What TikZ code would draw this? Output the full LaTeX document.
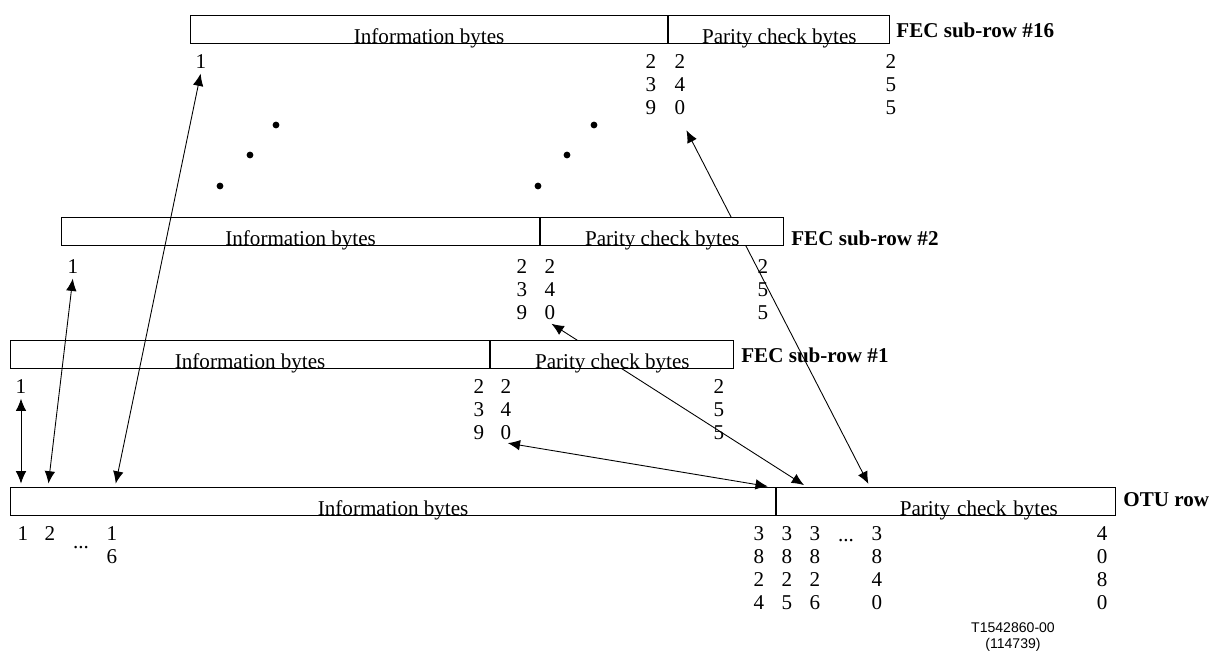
\documentclass[tikz,border=0pt]{standalone}
\usepackage{fontspec}
\setmainfont{Liberation Serif}
\setsansfont{Liberation Sans}
\usetikzlibrary{arrows.meta,backgrounds}

\begin{document}
\begin{tikzpicture}[x=0.02cm, y=-0.02cm, font=\fontsize{12}{13}\selectfont,
      >={Latex[length=7pt,width=6pt]},
      cell/.style={draw, fill=white, line width=0.7pt, anchor=north west, minimum height=0.56cm,
        inner xsep=0pt, inner ysep=0.01cm, text height=0.54cm, text depth=0pt},
      num/.style={align=center, anchor=north, inner sep=1.5pt},
      rowlbl/.style={anchor=west, inner sep=0pt, font=\fontsize{12}{13}\selectfont\bfseries},
      lnk/.style={<->, line width=0.5pt, shorten <=1pt, shorten >=2pt}]
    \useasboundingbox (0,0) rectangle (1212,652);
    % FEC sub-row #16
    \node[cell, minimum width=477*0.02cm] (info16) at (190,15) {Information bytes};
    \node[cell, minimum width=221*0.02cm] (par16) at (info16.north east) {Parity check bytes};
    \node[rowlbl] (lbl16) at (896,30) {FEC sub-row \#16};
    \node[num] (r16a) at (201,52) {1};
    \node[num] (r16b) at (651,52) {2\\3\\9};
    \node[num] (r16c) at (680,52) {2\\4\\0};
    \node[num] (r16d) at (891,52) {2\\5\\5};
    % rows between
    \foreach \x/\y in {220/186, 250/155, 276/125, 538/186, 567/155, 594/125}
      \fill (\x,\y) circle[radius=0.068cm];
    % FEC sub-row #2
    \node[cell, minimum width=478*0.02cm] (info2) at (61,217) {Information bytes};
    \node[cell, minimum width=243*0.02cm] (par2) at (info2.north east) {Parity check bytes};
    \node[rowlbl] (lbl2) at (791,238) {FEC sub-row \#2};
    \node[num] (r2a) at (73,257) {1};
    \node[num] (r2b) at (522,257) {2\\3\\9};
    \node[num] (r2c) at (550,257) {2\\4\\0};
    \node[num] (r2d) at (763,257) {2\\5\\5};
    % FEC sub-row #1
    \node[cell, minimum width=479*0.02cm] (info1) at (10,340) {Information bytes};
    \node[cell, minimum width=243*0.02cm] (par1) at (info1.north east) {Parity check bytes};
    \node[rowlbl] (lbl1) at (741,355) {FEC sub-row \#1};
    \node[num] (r1a) at (21,377) {1};
    \node[num] (r1b) at (479,377) {2\\3\\9};
    \node[num] (r1c) at (506,377) {2\\4\\0};
    \node[num] (r1d) at (719,377) {2\\5\\5};
    % OTU row
    \node[cell, minimum width=765*0.02cm] (otuinfo) at (10,487) {Information bytes};
    \node[cell, minimum width=339*0.02cm, text width=223*0.02cm, align=right] (otupar) at (otuinfo.north east) {Parity check bytes};
    \node[rowlbl] (lblotu) at (1123,500) {OTU row};
    \node[num] (c1) at (23,524) {1};
    \node[num] (c2) at (50,524) {2};
    \node[anchor=base, inner sep=0pt] (dotsa) at (81,548) {...};
    \node[num] (c16) at (112,524) {1\\6};
    \node[num] (c3824) at (759,524) {3\\8\\2\\4};
    \node[num] (c3825) at (787,524) {3\\8\\2\\5};
    \node[num] (c3826) at (815,524) {3\\8\\2\\6};
    \node[anchor=base, inner sep=0pt] (dotsb) at (846,541) {...};
    \node[num] (c3840) at (877,524) {3\\8\\4\\0};
    \node[num] (c4080) at (1102,524) {4\\0\\8\\0};
    \node[anchor=north, align=center, inner sep=0pt, font=\sffamily\fontsize{8}{9.5}\selectfont] (tag) at (1013,622) {T1542860-00\\(114739)};
    % byte mapping
    \draw[lnk] (r1a.south) -- (r1a.south |- otuinfo.north);
    \draw[lnk] (r2a.south) -- ([xshift=-0.04cm]c2.north |- otuinfo.north);
    \draw[lnk] (r16a.south) -- ([xshift=0.06cm]c16.north |- otuinfo.north);
    \draw[lnk] (r1c.south) -- ([xshift=-0.1cm]otuinfo.north east);
    \begin{scope}[on background layer]
      \draw[lnk] (r2c.south) -- ([xshift=-0.16cm]c3826.north |- otupar.north);
      \draw[lnk, shorten <=8pt] (r16c.south) -- ([xshift=-0.14cm]c3840.north |- otupar.north);
    \end{scope}
  \end{tikzpicture}
\end{document}
